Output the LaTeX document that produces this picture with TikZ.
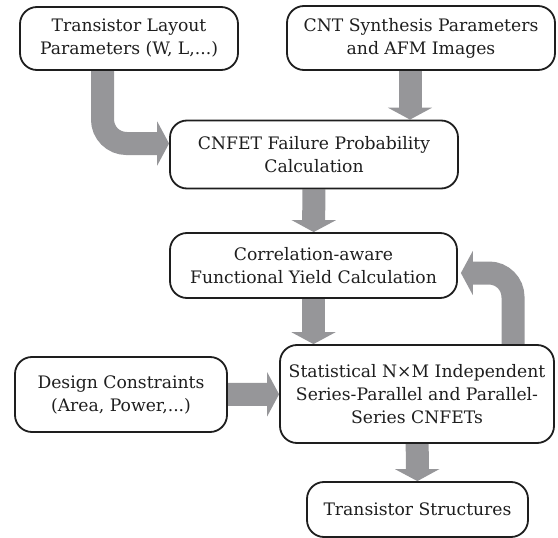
\documentclass[tikz,border=0pt]{standalone}
\usepackage{fontspec}
\setmainfont{DejaVu Serif}
\usetikzlibrary{arrows.meta,backgrounds}
\definecolor{flowgray}{RGB}{150,150,153}
\definecolor{inkgray}{RGB}{30,30,30}
\tikzstyle{block}=[draw=inkgray,text=inkgray,line width=1.8pt,rounded corners=17pt,fill=white,align=center,inner sep=0pt,font=\fontsize{17.2}{23}\selectfont]
\tikzstyle{flow}=[draw=flowgray,line width=23pt,-{Triangle[width=44pt,length=12pt]},flowgray]
\newcommand{\flowbend}{24pt}

\begin{document}
\begin{tikzpicture}[x=1pt, y=-1pt]
    \useasboundingbox (0,0) rectangle (558,538);
    % First we draw the blocks
    \foreach \pos/\name/\bw/\bh/\txt in {
        {(129,38.5)/layout/218/63/{Transistor Layout\\Parameters (W, L,...)}},
        {(421,38)/synth/268/64/{CNT Synthesis Parameters\\and AFM Images}},
        {(314,154.5)/failure/288/68/{CNFET Failure Probability\\Calculation}},
        {(313.5,265.5)/yield/287/65/{Correlation-aware\\Functional Yield Calculation}},
        {(417,394)/stat/274/98/{Statistical N×M Independent\\Series-Parallel and Parallel-\\Series CNFETs}},
        {(121,394.5)/design/212/75/{Design Constraints\\(Area, Power,...)}},
        {(417.5,509.5)/struct/221/55/{Transistor Structures}}}
        \node[block, minimum width=\bw pt, minimum height=\bh pt] (\name) at \pos {\txt};
    % Connect blocks with fat arrows behind them
    \begin{scope}[on background layer]
        \foreach \source/\dest in {failure/yield, design/stat, stat/struct}
            \draw[flow] (\source) -- (\dest);
        \draw[flow] ([xshift=-11pt]synth.south) -- ([xshift=-11pt]synth.south |- failure.north);
        \draw[flow] (yield.south) -- (yield.south |- stat.north);
        \draw[flow, rounded corners=\flowbend] ([xshift=-26.5pt]layout.south) |- ([yshift=11pt]failure.west);
        \draw[flow, rounded corners=\flowbend, shorten >=3pt] ([xshift=96pt]stat.north) |- ([yshift=-7.5pt]yield.east);
    \end{scope}
\end{tikzpicture}
\end{document}
